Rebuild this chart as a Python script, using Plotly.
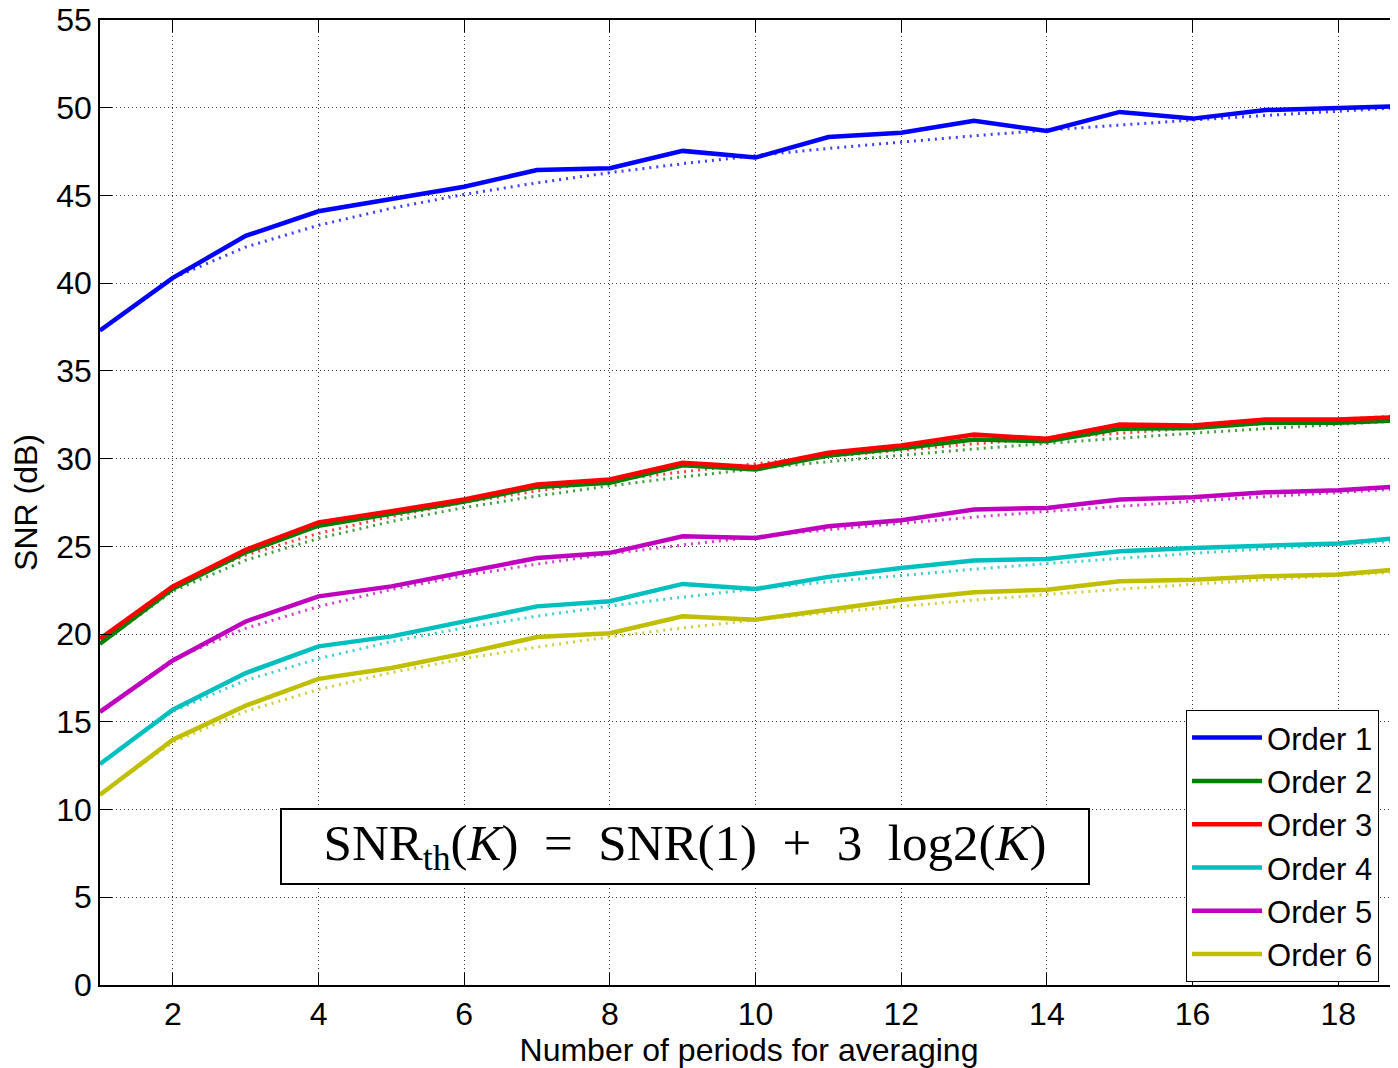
import plotly.graph_objects as go

# ---- data ----
K = list(range(1, 20))

names = ["Order 1", "Order 2", "Order 3", "Order 4", "Order 5", "Order 6"]
colors = ["#0000FF", "#008000", "#FF0000", "#00BFBF", "#BF00BF", "#BFBF00"]

# measured SNR (solid lines)
snr_order1 = [37.3, 40.3, 42.7, 44.1, 44.8, 45.5, 46.45, 46.55, 47.54, 47.16, 48.33, 48.58, 49.25, 48.68, 49.76, 49.38, 49.87, 49.97, 50.1]
snr_order2 = [19.45, 22.59, 24.66, 26.18, 26.85, 27.55, 28.39, 28.62, 29.62, 29.38, 30.18, 30.59, 31.09, 30.99, 31.7, 31.75, 32.04, 32.04, 32.2]
snr_order3 = [19.74, 22.72, 24.81, 26.37, 27.0, 27.67, 28.52, 28.81, 29.76, 29.51, 30.33, 30.75, 31.37, 31.13, 31.95, 31.89, 32.23, 32.23, 32.4]
snr_order4 = [12.6, 15.69, 17.78, 19.3, 19.87, 20.7, 21.58, 21.87, 22.86, 22.57, 23.26, 23.77, 24.2, 24.28, 24.72, 24.91, 25.06, 25.16, 25.55]
snr_order5 = [15.57, 18.5, 20.72, 22.15, 22.72, 23.55, 24.34, 24.63, 25.57, 25.48, 26.14, 26.49, 27.1, 27.19, 27.67, 27.8, 28.08, 28.2, 28.45]
snr_order6 = [10.84, 13.98, 15.92, 17.45, 18.07, 18.9, 19.83, 20.05, 21.01, 20.82, 21.39, 21.96, 22.38, 22.53, 23.01, 23.1, 23.29, 23.39, 23.75]

# theoretical SNR (dotted lines)
th_order1 = [37.3, 40.3, 42.06, 43.3, 44.27, 45.06, 45.72, 46.3, 46.81, 47.27, 47.68, 48.06, 48.4, 48.72, 49.02, 49.3, 49.56, 49.81, 50.04]
th_order2 = [19.45, 22.45, 24.21, 25.45, 26.42, 27.21, 27.87, 28.45, 28.96, 29.42, 29.83, 30.21, 30.55, 30.87, 31.17, 31.45, 31.71, 31.96, 32.19]
th_order3 = [19.74, 22.74, 24.5, 25.74, 26.71, 27.5, 28.16, 28.74, 29.25, 29.71, 30.12, 30.5, 30.84, 31.16, 31.46, 31.74, 32.0, 32.25, 32.48]
th_order4 = [12.6, 15.6, 17.36, 18.6, 19.57, 20.36, 21.02, 21.6, 22.11, 22.57, 22.98, 23.36, 23.7, 24.02, 24.32, 24.6, 24.86, 25.11, 25.34]
th_order5 = [15.57, 18.57, 20.33, 21.57, 22.54, 23.33, 23.99, 24.57, 25.08, 25.54, 25.95, 26.33, 26.67, 26.99, 27.29, 27.57, 27.83, 28.08, 28.31]
th_order6 = [10.84, 13.84, 15.6, 16.84, 17.81, 18.6, 19.26, 19.84, 20.35, 20.81, 21.22, 21.6, 21.94, 22.26, 22.56, 22.84, 23.1, 23.35, 23.58]

x_ticks = [2, 4, 6, 8, 10, 12, 14, 16, 18]
y_ticks = [0, 5, 10, 15, 20, 25, 30, 35, 40, 45, 50, 55]

measured = [snr_order1, snr_order2, snr_order3, snr_order4, snr_order5, snr_order6]
theory = [th_order1, th_order2, th_order3, th_order4, th_order5, th_order6]

fig = go.Figure()

for name, col, th in zip(names, colors, theory):
    fig.add_trace(go.Scatter(x=K, y=th, mode="lines", name=name + " (th)",
                             line=dict(color=col, width=3, dash="2px,5px"),
                             opacity=0.75, showlegend=False, hoverinfo="skip"))

for name, col, ms in zip(names, colors, measured):
    fig.add_trace(go.Scatter(x=K, y=ms, mode="lines", name=name,
                             line=dict(color=col, width=4.5)))

font_family = "Liberation Sans, Arial, sans-serif"

fig.update_layout(
    width=1390, height=1060,
    margin=dict(l=92, r=0, t=12, b=83, autoexpand=False),
    paper_bgcolor="white", plot_bgcolor="white",
    font=dict(family=font_family, size=32, color="black"),
    showlegend=True,
    legend=dict(x=0.8367, y=0.285, xanchor="left", yanchor="top",
                bgcolor="white", bordercolor="black", borderwidth=1,
                font=dict(size=31, family=font_family),
                tracegroupgap=0, itemwidth=70),
    xaxis=dict(range=[1, 18.82], tickvals=x_ticks, ticktext=[str(v) for v in x_ticks],
               showline=True, linecolor="black", linewidth=1.5, mirror="ticks",
               ticks="inside", ticklen=12, tickwidth=1.2, tickcolor="black",
               showgrid=True, gridcolor="#333333", griddash="1px,3px", gridwidth=1,
               zeroline=False, ticklabeloverflow="allow",
               title=dict(text="Number of periods for averaging", standoff=8,
                          font=dict(size=32))),
    yaxis=dict(range=[0, 55], tickvals=y_ticks, ticktext=[str(v) for v in y_ticks],
               showline=True, linecolor="black", linewidth=1.5,
               ticks="inside", ticklen=12, tickwidth=1.2, tickcolor="black",
               showgrid=True, gridcolor="#333333", griddash="1px,3px", gridwidth=1,
               zeroline=False, ticklabeloverflow="allow",
               title=dict(text="SNR (dB)", standoff=10, font=dict(size=32))),
)

nb = "\u00a0\u00a0"
eq = ("SNR<sub>th</sub>(<i>K</i>)" + nb + "=" + nb + "SNR(1)" + nb + "+" + nb +
      "3" + nb + "log2(<i>K</i>)")
fig.add_annotation(x=0.4507, y=0.1435, xref="paper", yref="paper",
                   xanchor="center", yanchor="middle",
                   text=eq, showarrow=False,
                   font=dict(family="Liberation Serif, Times New Roman, serif", size=51, color="black"),
                   bgcolor="white", bordercolor="black", borderwidth=2,
                   width=806, height=73, borderpad=0, align="center", valign="middle")

fig.write_html("out.html")
